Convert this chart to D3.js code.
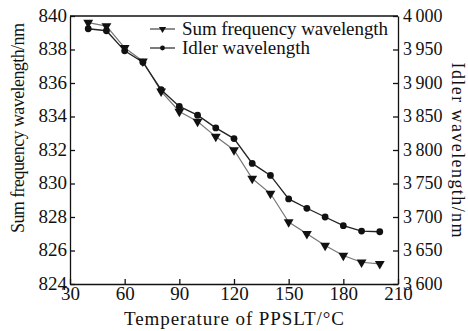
<!DOCTYPE html>
<html>
<head>
<meta charset="utf-8">
<script src="https://cdn.jsdelivr.net/npm/d3@7"></script>
<style>
  body { margin: 0; background: #fff; }
  svg { display: block; }
  text { font-family: "Liberation Serif", "Times New Roman", serif; fill: #111; }
</style>
</head>
<body>
<svg width="468" height="331"></svg>
<script>
// temperatures of the crystal (°C)
var temperatures = [40, 50, 60, 70, 80, 90, 100, 110, 120, 130, 140, 150, 160, 170, 180, 190, 200];
// sum frequency wavelength (nm), left axis
var sumWavelength = [839.6, 839.4, 838.1, 837.3, 835.5, 834.3, 833.7, 832.8, 832.0, 830.3, 829.4, 827.7, 827.0, 826.3, 825.7, 825.3, 825.2];
// idler wavelength (nm), right axis
var idlerWavelength = [3981, 3978, 3948, 3931, 3890, 3865, 3852, 3833, 3817, 3780, 3762, 3727, 3713, 3700, 3687, 3679, 3678];

var xTicks = [30, 60, 90, 120, 150, 180, 210];
var leftTicks = [824, 826, 828, 830, 832, 834, 836, 838, 840];
var rightTicks = [3600, 3650, 3700, 3750, 3800, 3850, 3900, 3950, 4000];
var legendNames = ["Sum frequency wavelength", "Idler wavelength"];

var svg = d3.select("svg");
var plotLeft = 70, plotRight = 398, plotTop = 16, plotBottom = 284;

var x = d3.scaleLinear().domain([30, 210]).range([plotLeft, plotRight]);
var yL = d3.scaleLinear().domain([824, 840]).range([plotBottom, plotTop]);
var yR = d3.scaleLinear().domain([3600, 4000]).range([plotBottom, plotTop]);

function styleAxis(g, size) {
    g.selectAll("path").attr("stroke", "#111").attr("stroke-width", 1.3);
    g.selectAll("line").attr("stroke", "#111").attr("stroke-width", 1.3);
    g.selectAll("text").attr("font-family", "Liberation Serif").attr("font-size", size).attr("fill", "#111");
}

// frame top line
svg.append("line")
    .attr("x1", plotLeft).attr("x2", plotRight).attr("y1", plotTop).attr("y2", plotTop)
    .attr("stroke", "#111").attr("stroke-width", 1.3);

svg.append("g")
    .attr("transform", "translate(0," + plotBottom + ")")
    .call(d3.axisBottom(x).tickValues(xTicks).tickSizeInner(-5).tickSizeOuter(0).tickPadding(2))
    .call(styleAxis, 19);

svg.append("g")
    .attr("transform", "translate(" + plotLeft + ",0)")
    .call(d3.axisLeft(yL).tickValues(leftTicks).tickSizeInner(-5).tickSizeOuter(0).tickPadding(3))
    .call(styleAxis, 19)
    .selectAll("text").attr("dy", "0.28em");

svg.append("g")
    .attr("transform", "translate(" + plotRight + ",0)")
    .call(d3.axisRight(yR).tickValues(rightTicks).tickSizeInner(-5).tickSizeOuter(0).tickPadding(5)
        .tickFormat(function (d) { var s = String(d); return s[0] + "\u2009" + s.slice(1); }))
    .call(styleAxis, 18)
    .selectAll("text").attr("dy", "0.28em");

// axis titles
svg.append("text")
    .attr("x", x(120)).attr("y", 325)
    .attr("text-anchor", "middle").attr("font-size", 19)
    .attr("textLength", 220).attr("lengthAdjust", "spacing")
    .text("Temperature of PPSLT/\u00b0C");

svg.append("text")
    .attr("transform", "translate(24,128) rotate(-90)")
    .attr("text-anchor", "middle").attr("font-size", 18)
    .attr("textLength", 210).attr("lengthAdjust", "spacing")
    .text("Sum frequency wavelength/nm");

svg.append("text")
    .attr("transform", "translate(452,150) rotate(90)")
    .attr("text-anchor", "middle").attr("font-size", 18)
    .attr("textLength", 175).attr("lengthAdjust", "spacing")
    .text("Idler wavelength/nm");

// series
var sumLine = d3.line()
    .x(function (d, i) { return x(temperatures[i]); })
    .y(function (d) { return yL(d); });
var idlerLine = d3.line()
    .x(function (d, i) { return x(temperatures[i]); })
    .y(function (d) { return yR(d); });

svg.append("path").datum(sumWavelength)
    .attr("d", sumLine).attr("fill", "none").attr("stroke", "#777").attr("stroke-width", 1.2);
svg.append("path").datum(idlerWavelength)
    .attr("d", idlerLine).attr("fill", "none").attr("stroke", "#222").attr("stroke-width", 1.3);

var tri = d3.symbol().type(d3.symbolTriangle).size(42);
svg.append("g").selectAll("path").data(sumWavelength).join("path")
    .attr("d", tri)
    .attr("transform", function (d, i) { return "translate(" + x(temperatures[i]) + "," + yL(d) + ") rotate(180)"; })
    .attr("fill", "#111");

svg.append("g").selectAll("circle").data(idlerWavelength).join("circle")
    .attr("cx", function (d, i) { return x(temperatures[i]); })
    .attr("cy", function (d) { return yR(d); })
    .attr("r", 3.4).attr("fill", "#111");

// legend
var legend = svg.append("g").attr("transform", "translate(150,0)");
legendNames.forEach(function (name, i) {
    var ly = 29 + i * 19;
    legend.append("line").attr("x1", 0).attr("x2", 25).attr("y1", ly).attr("y2", ly)
        .attr("stroke", i === 0 ? "#444" : "#222").attr("stroke-width", 1.2);
    if (i === 0) {
        legend.append("path").attr("d", d3.symbol().type(d3.symbolTriangle).size(22))
            .attr("transform", "translate(12.5," + ly + ") rotate(180)").attr("fill", "#111");
    } else {
        legend.append("circle").attr("cx", 12.5).attr("cy", ly).attr("r", 2.4).attr("fill", "#111");
    }
    legend.append("text").attr("x", 32).attr("y", ly + 6)
        .attr("font-size", 19)
        .attr("textLength", i === 0 ? 206 : 128).attr("lengthAdjust", "spacing")
        .text(name);
});
</script>
</body>
</html>
